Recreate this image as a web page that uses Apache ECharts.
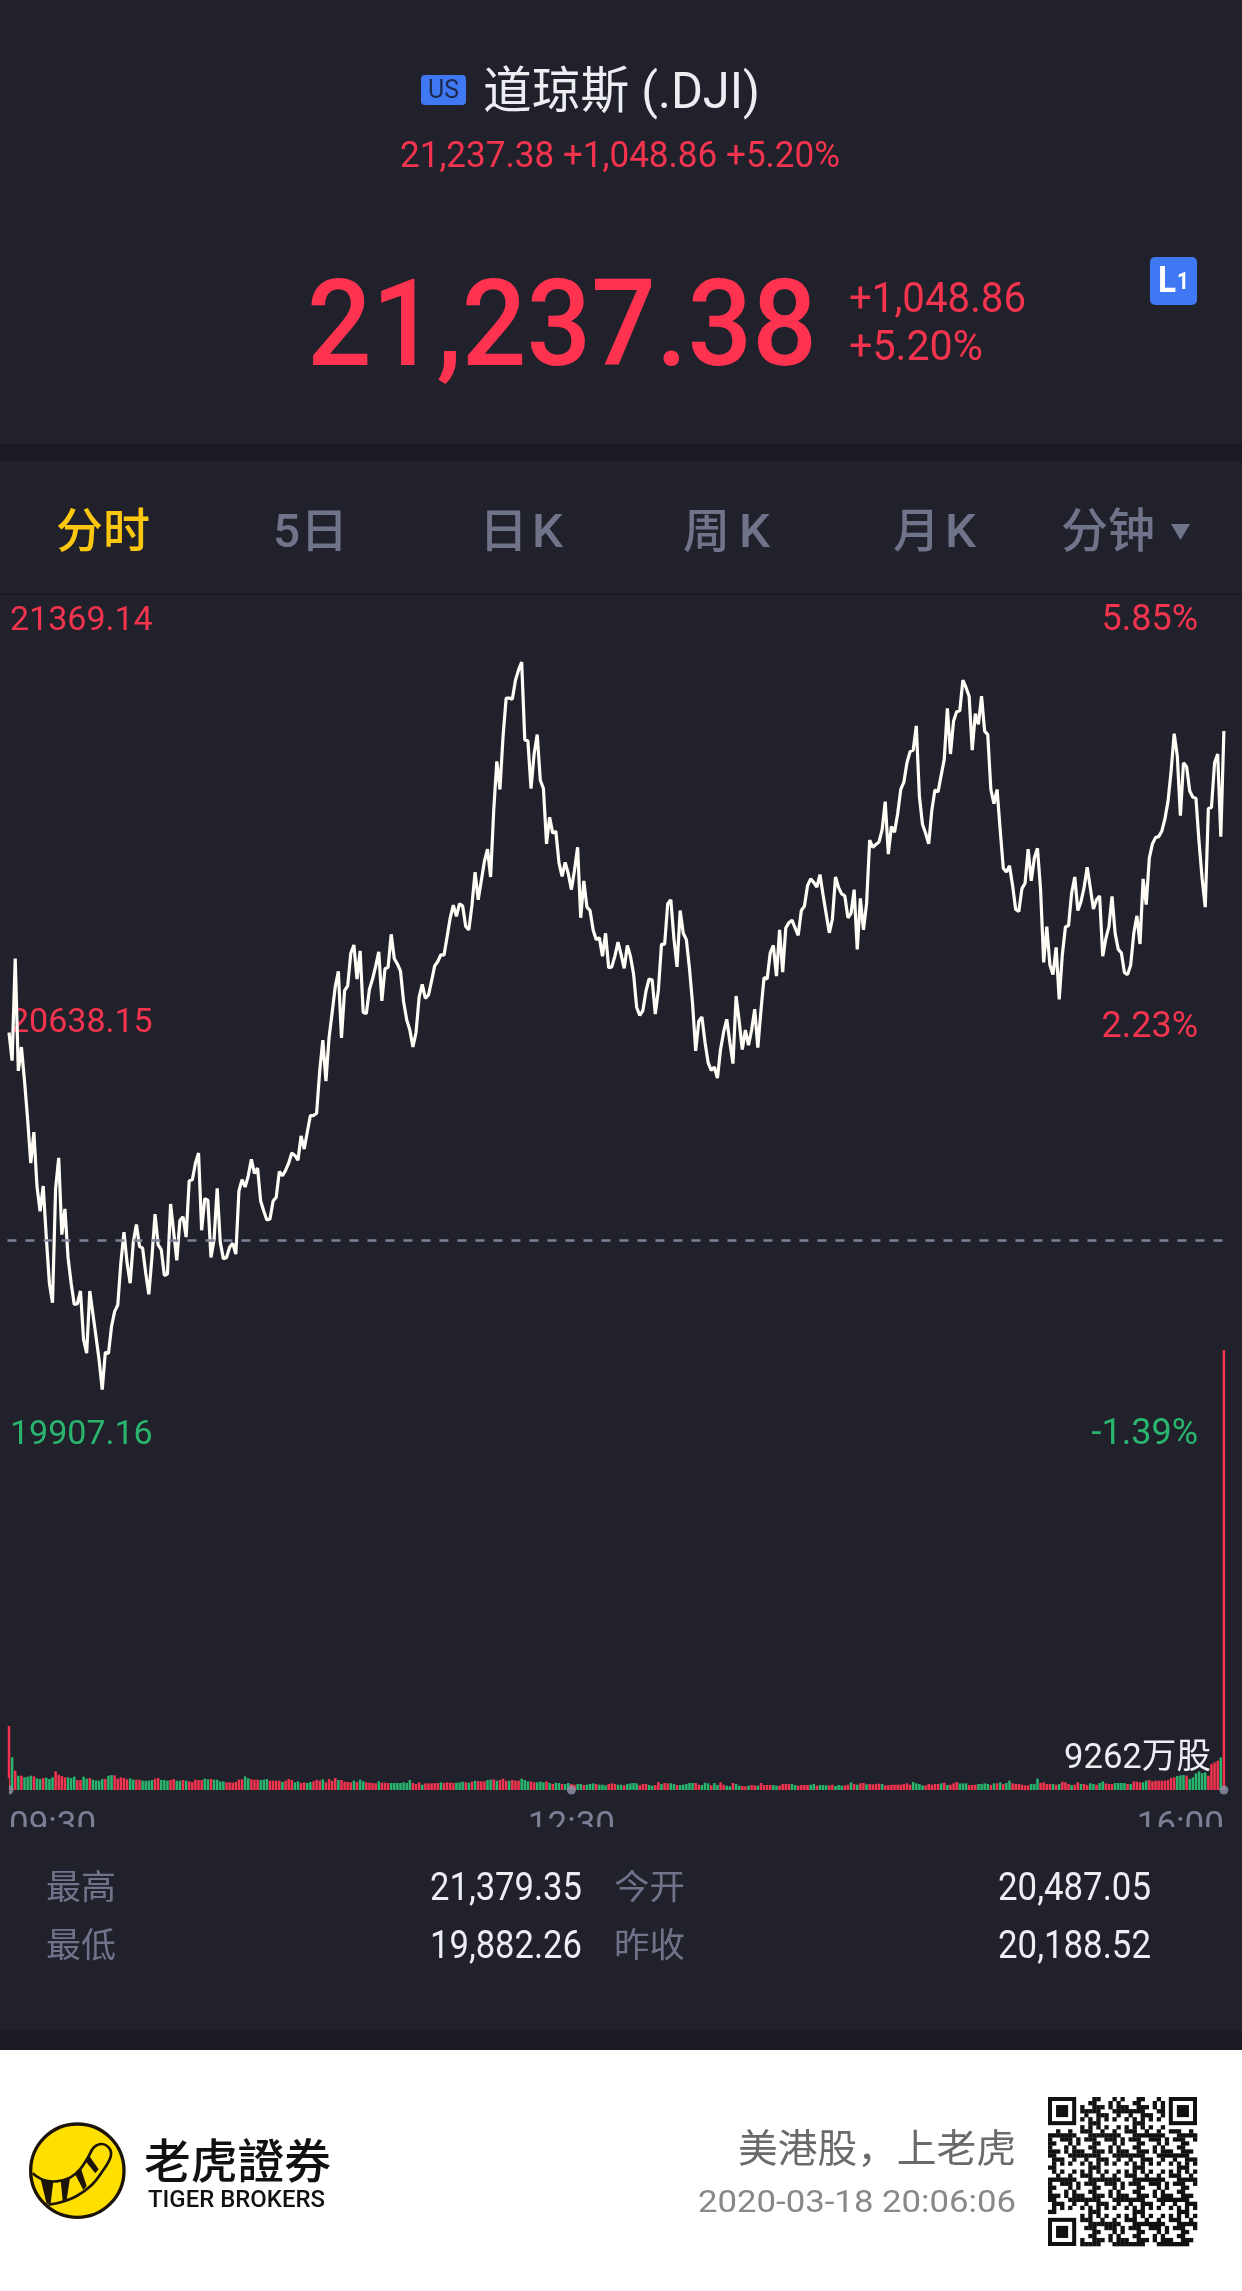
<!DOCTYPE html>
<html><head><meta charset="utf-8">
<style>html,body{margin:0;padding:0;background:#20212b}#c{width:1242px;height:2291px}</style>
<script src="https://cdn.jsdelivr.net/npm/echarts@6/dist/echarts.min.js"></script>
</head><body><div id="c"></div>
<script>
const prices = [
20617,20559,20769,20538,20587,20517,20438,20348,20412,20301,
20249,20301,20196,20101,20061,20296,20359,20201,20254,20154,
20101,20057,20059,20085,19985,19957,20085,20038,19991,19943,
19882,19959,19956,20012,20043,20056,20143,20206,20143,20101,
20185,20222,20177,20173,20122,20078,20154,20243,20180,20170,
20117,20120,20264,20206,20148,20230,20238,20196,20312,20314,
20348,20369,20210,20275,20272,20154,20191,20296,20185,20151,
20154,20175,20183,20161,20291,20314,20299,20322,20356,20327,
20338,20270,20249,20231,20233,20270,20278,20331,20322,20333,
20348,20369,20364,20354,20404,20377,20412,20446,20446,20451,
20538,20601,20517,20606,20658,20711,20743,20606,20703,20713,
20780,20797,20727,20785,20658,20656,20706,20727,20753,20783,
20682,20748,20751,20819,20769,20758,20743,20680,20643,20622,
20587,20617,20690,20716,20687,20694,20723,20754,20763,20777,
20776,20814,20853,20879,20856,20882,20877,20835,20828,20879,
20947,20890,20929,20969,20994,20937,21074,21175,21117,21226,
21305,21305,21303,21342,21363,21379,21219,21217,21119,21190,
21230,21136,21119,21005,21060,21027,21031,20966,20938,20967,
20944,20911,20951,20998,20853,20929,20875,20868,20828,20808,
20812,20774,20821,20750,20752,20774,20803,20777,20749,20796,
20774,20738,20669,20652,20662,20702,20727,20725,20655,20705,
20799,20798,20882,20890,20810,20752,20868,20821,20808,20749,
20676,20579,20640,20649,20597,20555,20539,20546,20523,20582,
20618,20644,20597,20553,20692,20640,20582,20622,20591,20622,
20665,20586,20662,20730,20727,20781,20796,20733,20828,20741,
20832,20843,20848,20832,20817,20868,20877,20919,20933,20926,
20916,20942,20900,20861,20822,20850,20937,20915,20902,20898,
20853,20862,20911,20788,20893,20828,20882,21013,20998,21004,
21009,21034,21092,20984,21041,21029,21067,21117,21132,21172,
21195,21198,21248,21103,21045,21027,21005,21074,21116,21112,
21146,21179,21284,21190,21258,21277,21279,21342,21327,21309,
21198,21273,21251,21309,21237,21230,21117,21088,21117,21034,
20955,20947,20960,20919,20870,20866,20913,20924,20994,20929,
20976,20996,20911,20761,20835,20756,20736,20792,20685,20777,
20834,20837,20904,20937,20868,20886,20915,20957,20915,20871,
20890,20898,20774,20810,20835,20897,20821,20788,20781,20740,
20736,20756,20821,20857,20799,20933,20880,20976,21005,21018,
21020,21031,21056,21092,21154,21232,21186,21063,21172,21164,
21114,21101,21099,21009,20933,20875,21078,21080,21172,21190,
21020,21237.38];

// signed volume in 万股: positive = red bar, negative = green bar
const volumes = [
1347,-690,406,-301,301,-266,-280,-301,287,-245,
-231,252,-259,-231,-266,392,322,294,266,-266,
-252,-280,210,210,-280,-238,252,-217,-203,-196,
-231,231,-301,-315,308,238,266,252,224,-245,
-217,217,217,-196,-196,-196,-210,238,252,-210,
-210,-196,210,231,-196,-196,210,-196,182,168,
217,210,210,-238,-224,231,-217,-217,-182,-182,
161,161,154,168,217,224,-287,-245,224,217,
217,-210,-217,-231,196,196,196,196,-168,196,
231,210,-161,-182,147,
161,-147,-168,182,210,196,-224,161,231,196,
252,-210,210,175,168,161,-196,168,-217,-182,
161,154,147,140,-182,154,154,147,-147,-147,
-147,-147,-161,-147,-210,147,126,161,-112,140,
140,140,147,147,-161,147,161,154,147,-154,
-161,-175,161,-154,175,-196,189,182,182,-210,
-217,224,-196,210,238,196,-196,210,196,196,
-238,-210,-182,182,161,-161,-175,-161,182,-147,
126,-154,-147,126,-126,-147,126,112,-126,-126,
105,-112,-126,-140,126,
-112,-112,-98,126,140,126,-112,-112,98,-126,
-140,-147,-140,98,126,126,-105,-91,105,168,
-126,147,140,-140,-126,105,-105,-112,-126,-147,
-147,147,112,-105,-154,-140,98,-147,-105,161,
112,-91,-77,147,-126,-91,84,77,-91,105,
98,-91,147,105,105,105,-105,-91,91,126,
126,126,-126,-105,91,105,105,105,-112,-126,
91,-105,-105,-98,98,112,-84,-105,-91,98,
112,-161,126,-112,140,147,-119,126,119,126,
133,-126,98,105,112,112,
112,112,126,140,112,-168,-140,-126,-98,98,
126,112,126,126,-140,154,-105,112,140,168,
-140,-140,-140,105,105,112,-126,-126,-140,-126,
105,-140,140,-161,126,-147,-196,140,126,126,
112,98,98,-126,-126,-238,147,161,126,126,
-126,112,-126,175,161,126,-105,112,161,-126,126,105,
-140,-126,112,-147,-182,140,126,126,-147,-147,
-147,-147,126,-126,182,175,161,-161,-196,210,
182,196,196,196,196,210,252,266,-294,-308,
-315,301,-231,-266,-350,-392,-357,-371,301,546,
581,616,-686,9262];

const xTicks = {0:'09:30',181:'12:30',391:'16:00'};
const priceTicks = [19907.16,20638.15,21369.14];
const pctTicks = [-1.39,2.23,5.85];
const prevClose = 20188.52;
const dayHigh = 21379.35, dayLow = 19882.26, dayOpen = 20487.05;
const maxVolume = 9262;
const markerIdx = [0,181,391];

const BG='#20212b',DARK='#1a1b23',RED='#f4344f',BIG='#ff3350',GREEN='#29b56e',GREY='#70748a',GOLD='#fcc70e',WHITE='#eceef2';
const SANS="Roboto,'Noto Sans CJK SC',sans-serif";
const CJK="'Noto Sans CJK SC',Roboto,sans-serif";
const mc=document.createElement('canvas').getContext('2d');
function T(s,x0,x1,cy,size,color,weight,fam){
  weight=weight||400;fam=fam||SANS;
  mc.font=weight+' '+size+'px '+fam;
  const w=mc.measureText(s).width;
  return {type:'text',x:x0,y:cy,scaleX:(x1-x0)/w,silent:true,z:10,
    style:{text:s,fill:color,fontSize:size,fontWeight:weight,fontFamily:fam,align:'left',verticalAlign:'middle'}};
}
function R(x,y,w,h,fill,z,r){return {type:'rect',silent:true,z:z||5,shape:{x,y,width:w,height:h,r:r||0},style:{fill}};}

// decorative QR-like block
function qr(){
  const n=37,x0=1048,y0=2097,s=149/n,ch=[];
  const inF=(i,j)=>(i<8&&j<8)||(i>=n-8&&j<8)||(i<8&&j>=n-8);
  for(let j=0;j<n;j++)for(let i=0;i<n;i++){
    if(inF(i,j))continue;
    const h=(i*i*31+j*j*17+i*j*7+i*13+j*5)%11;
    if(h<5)ch.push(R(x0+i*s,y0+j*s,s+.3,s+.3,'#111',6));
  }
  [[0,0],[n-7,0],[0,n-7]].forEach(p=>{
    ch.push(R(x0+p[0]*s,y0+p[1]*s,7*s,7*s,'#111',6));
    ch.push(R(x0+(p[0]+1)*s,y0+(p[1]+1)*s,5*s,5*s,'#fff',7));
    ch.push(R(x0+(p[0]+2)*s,y0+(p[1]+2)*s,3*s,3*s,'#111',8));
  });
  return ch;
}
const ink='#1c1408';
const logo={type:'group',x:20,y:2110,scaleX:1/3,scaleY:1/3,silent:true,z:6,children:[
  {type:'circle',z:6,shape:{cx:172,cy:182,r:140},style:{fill:'#ffdf00',stroke:ink,lineWidth:10}},
  {type:'polyline',z:7,shape:{smooth:.4,points:[[38,190],[70,210],[110,214],[150,203],[180,178],[205,140],[222,112],[245,102],[268,115],[272,140],[250,180],[215,225],[170,258],[125,276],[85,284]]},style:{stroke:ink,lineWidth:8,fill:'none'}},
  {type:'polygon',z:7,shape:{points:[[62,208],[100,213],[92,280],[80,282]]},style:{fill:ink}},
  {type:'polygon',z:7,shape:{points:[[122,211],[150,203],[140,270],[128,273]]},style:{fill:ink}},
  {type:'polygon',z:7,shape:{points:[[165,192],[183,176],[200,228],[190,240]]},style:{fill:ink}},
  {type:'polygon',z:7,shape:{points:[[198,155],[208,138],[236,178],[226,190]]},style:{fill:ink}}
]};

const graphics=[
  R(0,444,1242,17,DARK),R(0,593,1242,2,'#1b1c25'),R(0,2031,1242,19,DARK),R(0,2050,1242,241,'#ffffff'),
  R(0,1827,1242,30,BG,100),
  R(0,1778,9,22,BG,100),
  R(421,75,45,30,'#3f78f2',5,4),
  T('US',428,459,91,26,'#1c2a4e'),
  T('道琼斯 (.DJI)',483,760,95,50,WHITE,400),
  T('21,237.38 +1,048.86 +5.20%',400,840,158,37,RED),
  T('21,237.38',307,817,335,120,BIG,500),
  T('+1,048.86',849,1026,301,43,RED),
  T('+5.20%',849,983,349,43,RED),
  R(1150,257,47,48,'#3f78f2',5,5),
  T('L',1158,1176,283,36,'#fff',700),T('1',1177,1189,283,24,'#fff',700),
  T('分时',56,150,535,47,GOLD,500),
  T('5日',273,348,535,47,GREY,500),
  T('日',479,528,535,47,GREY,500),T('K',532,563,535,47,GREY,500),
  T('周',683,730,535,47,GREY,500),T('K',739,770,535,47,GREY,500),
  T('月',893,940,535,47,GREY,500),T('K',945,976,535,47,GREY,500),
  T('分钟',1061,1155,535,47,GREY,500),
  {type:'polygon',silent:true,z:6,shape:{points:[[1171,524],[1190,524],[1180.5,540]]},style:{fill:GREY}},
  T('9262万股',1064,1211,1759,35,WHITE),
  T('最高',46,116,1890,34,GREY),T('21,379.35',430,582,1890,39,WHITE),
  T('今开',614,685,1890,34,GREY),T('20,487.05',998,1151,1890,39,WHITE),
  T('最低',46,116,1948,34,GREY),T('19,882.26',430,582,1948,39,WHITE),
  T('昨收',614,685,1948,34,GREY),T('20,188.52',998,1151,1948,39,WHITE),
  logo,
  T('老虎證券',144,331,2160,47,'#111',500,CJK),
  T('TIGER BROKERS',148,325,2201,23,'#111',500),
  T('美港股，上老虎',738,1016,2147,39,'#6a6a6a',400,CJK),
  T('2020-03-18 20:06:06',698,1016,2204,31,'#888'),
  {type:'group',silent:true,children:qr()}
];

const cats=prices.map((_,i)=>String(i));
const L=7.45,Rt=16.55;
const option={
  animation:false,
  backgroundColor:BG,
  grid:[
    {left:L,right:Rt,top:662,bottom:2291-1389.5},
    {left:L,right:Rt,top:1350,bottom:2291-1790},
    {left:10,right:44,top:621,bottom:2291-1435}
  ],
  xAxis:[
    {type:'category',gridIndex:0,data:cats,boundaryGap:true,show:false},
    {type:'category',gridIndex:1,data:cats,boundaryGap:true,
      axisLine:{show:false},axisTick:{show:false},
      axisLabel:{interval:i=>xTicks[i]!==undefined,formatter:(v,i)=>xTicks[v]||'',
        color:'#7b7f95',fontSize:35,fontFamily:'Roboto',margin:20,alignMinLabel:'left',alignMaxLabel:'right',hideOverlap:false}},
    {type:'value',gridIndex:2,show:false,min:0,max:1}
  ],
  yAxis:[
    {type:'value',gridIndex:0,min:dayLow,max:dayHigh,show:false},
    {type:'value',gridIndex:1,min:0,max:maxVolume,show:false},
    {type:'value',gridIndex:2,min:priceTicks[0],max:priceTicks[2],position:'left',
      axisLine:{show:false},axisTick:{show:false},splitLine:{show:false},
      axisLabel:{inside:true,margin:0,customValues:priceTicks,fontFamily:'Roboto',fontSize:34,
        formatter:v=>{const s=v.toFixed(2);return v===priceTicks[0]?'{g|'+s+'}':v===priceTicks[1]?'{m|'+s+'}':'{r|'+s+'}';},
        rich:{g:{color:GREEN,fontSize:34,fontFamily:'Roboto'},r:{color:RED,fontSize:34,fontFamily:'Roboto'},
              m:{color:RED,fontSize:34,fontFamily:'Roboto',padding:[0,0,10,0]}}}},
    {type:'value',gridIndex:2,min:pctTicks[0],max:pctTicks[2],position:'right',
      axisLine:{show:false},axisTick:{show:false},splitLine:{show:false},
      axisLabel:{inside:true,margin:0,customValues:pctTicks,fontFamily:'Roboto',fontSize:36,
        formatter:v=>v.toFixed(2)+'%',color:v=>Number(v)<0?GREEN:RED}}
  ],
  series:[
    {type:'line',xAxisIndex:0,yAxisIndex:0,data:prices,showSymbol:false,symbol:'none',clip:false,z:3,
      lineStyle:{color:'#fffdf6',width:3.2},
      markLine:{silent:true,symbol:'none',label:{show:false},animation:false,
        lineStyle:{color:'#7f8399',type:[9,9],width:2.5},data:[{yAxis:prevClose}]}},
    {type:'bar',xAxisIndex:1,yAxisIndex:1,barWidth:2.5,z:3,
      data:volumes.map(v=>({value:Math.abs(v),itemStyle:{color:v>=0?RED:GREEN}}))},
    {type:'scatter',xAxisIndex:1,yAxisIndex:1,symbolSize:9,clip:false,z:4,silent:true,
      itemStyle:{color:'#8f92a8'},data:markerIdx.map(i=>[String(i),0])}
  ],
  graphic:{elements:graphics}
};
const chart=echarts.init(document.getElementById('c'),null,{renderer:'canvas',width:1242,height:2291});
chart.setOption(option);
</script></body></html>
